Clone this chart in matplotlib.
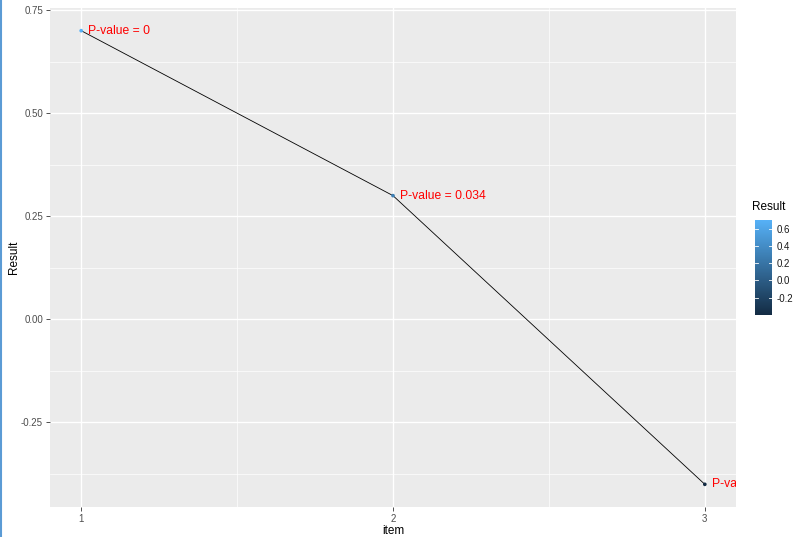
import matplotlib
matplotlib.use("Agg")
import matplotlib.pyplot as plt
import numpy as np
from matplotlib.colors import LinearSegmentedColormap, Normalize
from matplotlib.colorbar import ColorbarBase

plt.rcParams['font.family'] = ['Liberation Sans', 'DejaVu Sans']

# data
items = [1, 2, 3]
result = [0.70, 0.30, -0.40]
labels = ["P-value = 0", "P-value = 0.034", "P-value = 0.5"]

yticks = [-0.25, 0.00, 0.25, 0.50, 0.75]
xticks = [1, 2, 3]
cb_ticks = [-0.2, 0.0, 0.2, 0.4, 0.6]

cmap = LinearSegmentedColormap.from_list("gg", ["#132B43", "#56B1F7"])
norm = Normalize(vmin=min(result), vmax=max(result))

fig = plt.figure(figsize=(8.0, 5.37), dpi=100)
ax = fig.add_axes([50 / 800, 1 - 507 / 537, 686 / 800, 499 / 537])

ax.set_facecolor("#EBEBEB")
for s in ax.spines.values():
    s.set_visible(False)

ax.set_xlim(0.9, 3.1)
ax.set_ylim(-0.455, 0.755)
ax.set_xticks(xticks)
ax.set_yticks(yticks)
ax.set_xticklabels([str(x) for x in xticks])
ax.set_yticklabels(["%.2f" % y for y in yticks])
ax.set_xticks([1.5, 2.5], minor=True)
ax.set_yticks([-0.375, -0.125, 0.125, 0.375, 0.625], minor=True)
ax.tick_params(which="major", length=3, width=0.6, color="#333333",
               labelcolor="#4D4D4D", labelsize=7, pad=2)
ax.tick_params(which="minor", length=0)
ax.grid(which="major", color="white", linewidth=1.0)
ax.grid(which="minor", color="white", linewidth=0.5)
ax.set_axisbelow(True)

ax.plot(items, result, color="black", linewidth=0.6, zorder=3)
ax.scatter(items, result, c=result, cmap=cmap, norm=norm, s=7, zorder=4,
           linewidths=0)
for x, y, t in zip(items, result, labels):
    ax.text(x + 0.022, y, t, color="#FF0000", fontsize=8.7, va="center",
            ha="left", clip_on=True, zorder=5)

ax.set_xlabel("item", fontsize=8.5, color="black", labelpad=1)
ax.set_ylabel("Result", fontsize=8.5, color="black", va="center")
ax.yaxis.set_label_coords(-36 / 686, 0.5)

# colour bar legend
cax = fig.add_axes([755 / 800, 1 - 315 / 537, 17 / 800, 95 / 537])
cb = ColorbarBase(cax, cmap=cmap, norm=norm, orientation="vertical")
cb.outline.set_visible(False)
cb.set_ticks(cb_ticks)
cb.set_ticklabels(["%.1f" % v for v in cb_ticks])
cax.tick_params(length=0, labelsize=7, labelcolor="#1A1A1A", pad=3)
for v in cb_ticks:
    cax.plot([0, 0.2], [v, v], color="white", linewidth=0.6)
    cax.plot([0.8, 1.0], [v, v], color="white", linewidth=0.6)
fig.text(752 / 800, 1 - 207 / 537, "Result", fontsize=8.5, ha="left",
         va="center", color="black")

# left edge border from the screenshot
fig.add_artist(plt.Line2D([0.0016, 0.0016], [0, 1], color="#5B9BD5",
                          linewidth=1.5, transform=fig.transFigure))

fig.savefig("out.png", dpi=100)
